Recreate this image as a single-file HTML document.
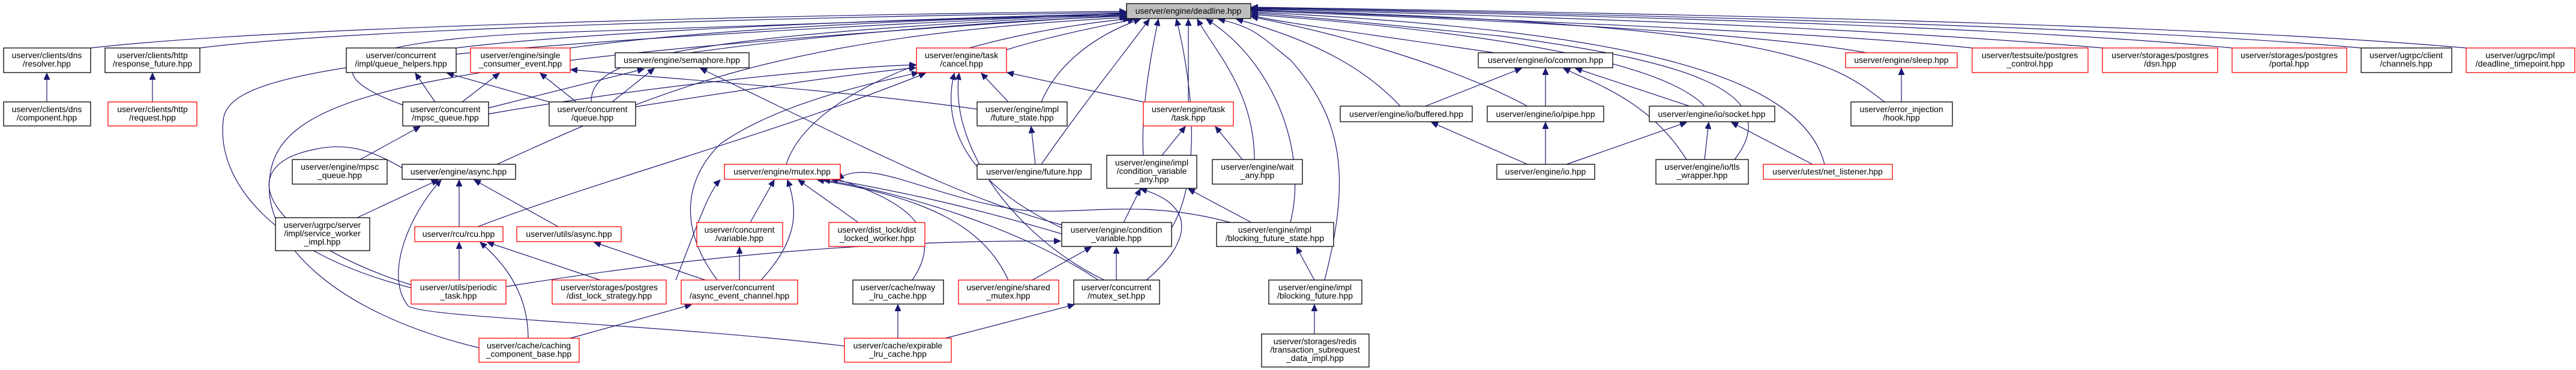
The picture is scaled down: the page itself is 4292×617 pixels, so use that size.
<!DOCTYPE html>
<html><head><meta charset="utf-8"><style>
html,body{margin:0;padding:0;background:#fff;}
svg{display:block;}
text{font-family:"Liberation Sans",sans-serif;font-size:14px;fill:#000;text-anchor:middle;}
.k{fill:#fff;stroke:#000;stroke-width:1.3;}
.r{fill:#fff;stroke:#f00;stroke-width:1.3;}
.g{fill:#bfbfbf;stroke:#000;stroke-width:1.3;}
path{fill:none;stroke:#191970;stroke-width:1.2;}
</style></head><body>
<svg width="4292" height="617" viewBox="0 0 4292 617" xmlns="http://www.w3.org/2000/svg">
<defs><marker id="a" markerUnits="userSpaceOnUse" markerWidth="12" markerHeight="10" refX="11" refY="5" orient="auto"><path d="M0,0 L11,5 L0,10 z" style="fill:#191970;stroke:#191970;stroke-width:1"/></marker></defs>
<g marker-end="url(#a)">
<!-- to deadline -->
<path d="M151,80 C500,40 1500,22 1876,19"/>
<path d="M333,80 C600,45 1500,25 1876,21"/>
<path d="M760,80 C1000,50 1600,28 1876,23"/>
<path d="M950,80 C1200,45 1600,30 1876,25"/>
<path d="M1150,88 C1350,60 1650,35 1876,27"/>
<path d="M671,175 C520,120 560,70 900,55 C1300,40 1700,30 1876,22"/>
<path d="M985,170 C985,100 1100,60 1876,24"/>
<path d="M828,274 C1100,150 1300,60 1878,29"/>
<path d="M685,480 C450,420 360,300 372,200 C380,120 600,80 1876,22"/>
<path d="M798,580 C550,520 440,400 449,300 C460,150 700,100 1876,25"/>
<path d="M1677,83 C1750,60 1830,45 1890,32"/>
<path d="M1735,170 C1760,110 1820,60 1900,32"/>
<path d="M1980,170 L1980,32"/>
<path d="M1310,274 C1350,150 1600,60 1882,31"/>
<path d="M1735,274 C1800,180 1880,80 1915,32"/>
<path d="M1905,259 C1900,180 1920,80 1930,32"/>
<path d="M2090,266 C2090,150 2020,80 1995,32"/>
<path d="M1952,380 C2000,300 1990,150 1960,32"/>
<path d="M2150,371 C2180,250 2120,100 2010,32"/>
<path d="M2207,467 C2250,300 2240,200 2150,100 C2100,60 2090,45 2030,32"/>
<path d="M2490,88 C2300,60 2150,40 2085,26"/>
<path d="M2333,177 C2280,120 2200,70 2060,32"/>
<path d="M2545,177 C2400,100 2200,50 2085,28"/>
<path d="M2840,177 C2750,80 2300,40 2085,24"/>
<path d="M2890,266 C2980,150 2800,100 2500,60 C2300,40 2150,25 2085,22"/>
<path d="M3040,274 C3000,120 2700,50 2085,20"/>
<path d="M3110,88 C2900,50 2400,30 2085,18"/>
<path d="M3140,170 C3060,110 3000,40 2085,17"/>
<path d="M3286,80 C3000,50 2400,30 2085,16"/>
<path d="M3503,80 C3100,45 2500,25 2085,15"/>
<path d="M3719,80 C3300,40 2500,22 2085,14"/>
<path d="M3934,80 C3500,40 2500,20 2085,13"/>
<path d="M4109,80 C3600,35 2500,18 2085,12"/>
<!-- others -->
<path d="M78,170 L78,122"/>
<path d="M254,170 L254,122"/>
<path d="M725,170 L692,122"/>
<path d="M770,170 L832,122"/>
<path d="M814,180 L1073,115"/>
<path d="M814,190 C1100,140 1400,112 1526,108"/>
<path d="M915,170 L745,122"/>
<path d="M960,170 L900,122"/>
<path d="M1020,170 L1090,114"/>
<path d="M1059,178 C1300,140 1450,120 1526,113"/>
<path d="M1628,182 C1400,150 1100,130 951,116"/>
<path d="M1769,375 C1600,330 1450,250 1167,114"/>
<path d="M600,266 L700,211"/>
<path d="M796,378 C1000,300 1300,220 1542,122"/>
<path d="M1680,170 L1635,122"/>
<path d="M1905,170 L1678,121"/>
<path d="M1769,380 C1600,300 1570,200 1590,122"/>
<path d="M1840,467 C1700,400 1580,250 1598,122"/>
<path d="M1195,467 C1130,380 1140,300 1200,240 C1300,170 1450,140 1530,121"/>
<path d="M1250,371 L1290,300"/>
<path d="M1430,371 L1330,300"/>
<path d="M1268,467 C1330,400 1330,350 1312,300"/>
<path d="M1680,467 C1640,380 1550,330 1362,300"/>
<path d="M1720,467 L1818,412"/>
<path d="M1830,467 C1700,380 1500,320 1372,300"/>
<path d="M1860,467 L1860,412"/>
<path d="M1910,467 C1990,400 1990,340 1900,315"/>
<path d="M1769,390 C1600,340 1500,320 1385,299"/>
<path d="M1872,371 L1900,315"/>
<path d="M2085,371 L1980,315"/>
<path d="M2050,371 C1900,330 1800,360 1700,350 C1550,330 1450,260 1395,299"/>
<path d="M843,478 C1200,420 1500,400 1767,402"/>
<path d="M1520,467 C1580,380 1500,330 1385,296"/>
<path d="M1232,467 L1232,412"/>
<path d="M1126,467 C1160,380 1180,320 1200,300"/>
<path d="M1000,467 L812,404"/>
<path d="M765,467 L765,404"/>
<path d="M880,564 C880,480 830,430 800,404"/>
<path d="M950,564 L1152,508"/>
<path d="M1175,467 L990,404"/>
<path d="M765,378 L765,300"/>
<path d="M930,378 L790,300"/>
<path d="M595,363 L730,300"/>
<path d="M685,475 C450,400 380,280 520,250 C600,230 650,270 705,300"/>
<path d="M1407,577 C1100,540 700,530 680,510 C640,460 680,360 735,300"/>
<path d="M1496,564 L1496,508"/>
<path d="M1575,564 L1790,508"/>
<path d="M2190,467 L2160,412"/>
<path d="M2190,557 L2190,508"/>
<path d="M1936,259 L1975,211"/>
<path d="M2070,266 L2025,211"/>
<path d="M1725,274 L1718,211"/>
<path d="M2375,177 L2535,114"/>
<path d="M2575,177 L2575,114"/>
<path d="M2815,177 L2625,114"/>
<path d="M2810,266 C2750,170 2660,140 2605,114"/>
<path d="M2545,274 L2385,204"/>
<path d="M2575,274 L2575,204"/>
<path d="M2610,274 L2810,204"/>
<path d="M2840,266 L2847,204"/>
<path d="M3020,274 L2885,204"/>
<path d="M3168,170 L3168,114"/>
</g>
<!-- nodes -->
<rect class="g" x="1877" y="6" width="207" height="25"/><text x="1980" y="23">userver/engine/deadline.hpp</text>
<rect class="k" x="6" y="80" width="145" height="41"/><text x="78" y="97">userver/clients/dns</text><text x="78" y="111">/resolver.hpp</text>
<rect class="k" x="175" y="80" width="158" height="41"/><text x="254" y="97">userver/clients/http</text><text x="254" y="111">/response_future.hpp</text>
<rect class="k" x="6" y="170" width="145" height="40"/><text x="78" y="187">userver/clients/dns</text><text x="78" y="201">/component.hpp</text>
<rect class="r" x="180" y="170" width="148" height="40"/><text x="254" y="187">userver/clients/http</text><text x="254" y="201">/request.hpp</text>
<rect class="k" x="577" y="80" width="183" height="41"/><text x="668" y="97">userver/concurrent</text><text x="668" y="111">/impl/queue_helpers.hpp</text>
<rect class="r" x="784" y="80" width="166" height="41"/><text x="867" y="97">userver/engine/single</text><text x="867" y="111">_consumer_event.hpp</text>
<rect class="k" x="1025" y="88" width="223" height="25"/><text x="1136" y="105">userver/engine/semaphore.hpp</text>
<rect class="k" x="671" y="170" width="143" height="40"/><text x="742" y="187">userver/concurrent</text><text x="742" y="201">/mpsc_queue.hpp</text>
<rect class="k" x="915" y="170" width="144" height="40"/><text x="987" y="187">userver/concurrent</text><text x="987" y="201">/queue.hpp</text>
<rect class="k" x="487" y="266" width="158" height="41"/><text x="566" y="283">userver/engine/mpsc</text><text x="566" y="297">_queue.hpp</text>
<rect class="k" x="670" y="274" width="189" height="25"/><text x="764" y="291">userver/engine/async.hpp</text>
<rect class="k" x="459" y="363" width="157" height="55"/><text x="537" y="380">userver/ugrpc/server</text><text x="537" y="394">/impl/service_worker</text><text x="537" y="408">_impl.hpp</text>
<rect class="r" x="691" y="378" width="147" height="25"/><text x="764" y="395">userver/rcu/rcu.hpp</text>
<rect class="r" x="861" y="378" width="174" height="25"/><text x="948" y="395">userver/utils/async.hpp</text>
<rect class="r" x="685" y="467" width="158" height="40"/><text x="764" y="484">userver/utils/periodic</text><text x="764" y="498">_task.hpp</text>
<rect class="r" x="920" y="467" width="190" height="40"/><text x="1015" y="484">userver/storages/postgres</text><text x="1015" y="498">/dist_lock_strategy.hpp</text>
<rect class="r" x="798" y="564" width="167" height="40"/><text x="881" y="581">userver/cache/caching</text><text x="881" y="595">_component_base.hpp</text>
<rect class="r" x="1527" y="80" width="150" height="41"/><text x="1602" y="97">userver/engine/task</text><text x="1602" y="111">/cancel.hpp</text>
<rect class="k" x="1628" y="170" width="150" height="40"/><text x="1703" y="187">userver/engine/impl</text><text x="1703" y="201">/future_state.hpp</text>
<rect class="r" x="1905" y="170" width="150" height="40"/><text x="1980" y="187">userver/engine/task</text><text x="1980" y="201">/task.hpp</text>
<rect class="r" x="1207" y="274" width="193" height="25"/><text x="1303" y="291">userver/engine/mutex.hpp</text>
<rect class="k" x="1628" y="274" width="190" height="25"/><text x="1723" y="291">userver/engine/future.hpp</text>
<rect class="k" x="1844" y="259" width="150" height="55"/><text x="1919" y="276">userver/engine/impl</text><text x="1919" y="290">/condition_variable</text><text x="1919" y="304">_any.hpp</text>
<rect class="k" x="2020" y="266" width="150" height="41"/><text x="2095" y="283">userver/engine/wait</text><text x="2095" y="297">_any.hpp</text>
<rect class="r" x="1161" y="371" width="143" height="40"/><text x="1232" y="388">userver/concurrent</text><text x="1232" y="402">/variable.hpp</text>
<rect class="r" x="1381" y="371" width="160" height="40"/><text x="1461" y="388">userver/dist_lock/dist</text><text x="1461" y="402">_locked_worker.hpp</text>
<rect class="k" x="1769" y="371" width="183" height="40"/><text x="1860" y="388">userver/engine/condition</text><text x="1860" y="402">_variable.hpp</text>
<rect class="k" x="2027" y="371" width="195" height="40"/><text x="2124" y="388">userver/engine/impl</text><text x="2124" y="402">/blocking_future_state.hpp</text>
<rect class="r" x="1135" y="467" width="194" height="40"/><text x="1232" y="484">userver/concurrent</text><text x="1232" y="498">/async_event_channel.hpp</text>
<rect class="k" x="1421" y="467" width="151" height="40"/><text x="1496" y="484">userver/cache/nway</text><text x="1496" y="498">_lru_cache.hpp</text>
<rect class="r" x="1597" y="467" width="167" height="40"/><text x="1680" y="484">userver/engine/shared</text><text x="1680" y="498">_mutex.hpp</text>
<rect class="k" x="1789" y="467" width="143" height="40"/><text x="1860" y="484">userver/concurrent</text><text x="1860" y="498">/mutex_set.hpp</text>
<rect class="k" x="2114" y="467" width="155" height="40"/><text x="2191" y="484">userver/engine/impl</text><text x="2191" y="498">/blocking_future.hpp</text>
<rect class="r" x="1407" y="564" width="178" height="40"/><text x="1496" y="581">userver/cache/expirable</text><text x="1496" y="595">_lru_cache.hpp</text>
<rect class="k" x="2102" y="557" width="179" height="55"/><text x="2191" y="574">userver/storages/redis</text><text x="2191" y="588">/transaction_subrequest</text><text x="2191" y="602">_data_impl.hpp</text>
<rect class="k" x="2463" y="88" width="224" height="25"/><text x="2575" y="105">userver/engine/io/common.hpp</text>
<rect class="r" x="3075" y="88" width="186" height="25"/><text x="3168" y="105">userver/engine/sleep.hpp</text>
<rect class="k" x="2233" y="177" width="220" height="26"/><text x="2343" y="195">userver/engine/io/buffered.hpp</text>
<rect class="k" x="2478" y="177" width="194" height="26"/><text x="2575" y="195">userver/engine/io/pipe.hpp</text>
<rect class="k" x="2748" y="177" width="209" height="26"/><text x="2852" y="195">userver/engine/io/socket.hpp</text>
<rect class="k" x="3084" y="170" width="169" height="40"/><text x="3168" y="187">userver/error_injection</text><text x="3168" y="201">/hook.hpp</text>
<rect class="k" x="2494" y="274" width="163" height="25"/><text x="2575" y="291">userver/engine/io.hpp</text>
<rect class="k" x="2759" y="266" width="154" height="41"/><text x="2836" y="283">userver/engine/io/tls</text><text x="2836" y="297">_wrapper.hpp</text>
<rect class="r" x="2938" y="274" width="215" height="25"/><text x="3045" y="291">userver/utest/net_listener.hpp</text>
<rect class="r" x="3286" y="80" width="193" height="41"/><text x="3382" y="97">userver/testsuite/postgres</text><text x="3382" y="111">_control.hpp</text>
<rect class="r" x="3503" y="80" width="192" height="41"/><text x="3599" y="97">userver/storages/postgres</text><text x="3599" y="111">/dsn.hpp</text>
<rect class="r" x="3719" y="80" width="191" height="41"/><text x="3814" y="97">userver/storages/postgres</text><text x="3814" y="111">/portal.hpp</text>
<rect class="k" x="3934" y="80" width="151" height="41"/><text x="4009" y="97">userver/ugrpc/client</text><text x="4009" y="111">/channels.hpp</text>
<rect class="r" x="4109" y="80" width="181" height="41"/><text x="4199" y="97">userver/ugrpc/impl</text><text x="4199" y="111">/deadline_timepoint.hpp</text>
</svg>
</body></html>
